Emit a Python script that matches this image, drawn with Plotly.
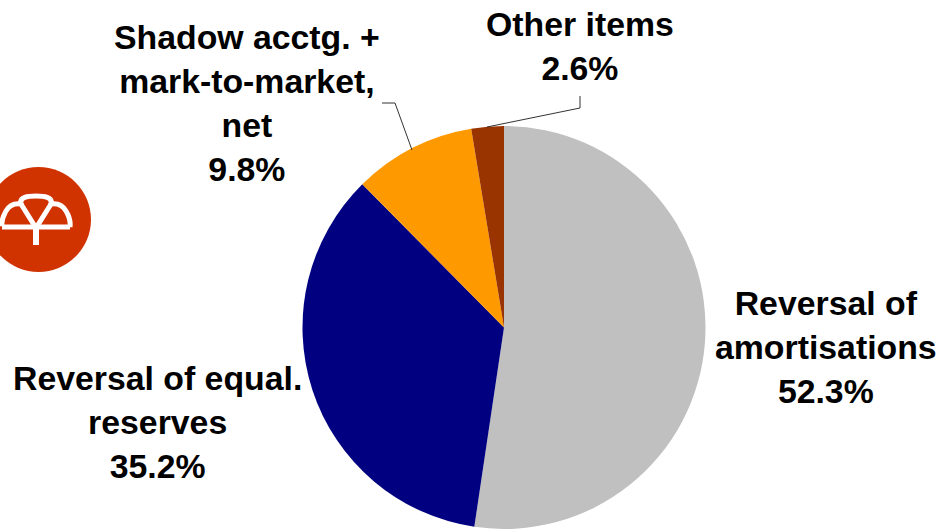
import plotly.graph_objects as go

W, H = 936, 529
categories = ["Reversal of amortisations", "Reversal of equal. reserves",
              "Shadow acctg. + mark-to-market, net", "Other items"]
shares = [52.3, 35.2, 9.8, 2.6]
colors = ["#C0C0C0", "#000080", "#FF9900", "#993300"]
label_lines = ["Reversal of<br>amortisations<br>52.3%",
               "Reversal of equal.<br>reserves<br>35.2%",
               "Shadow acctg. +<br>mark-to-market,<br>net<br>9.8%",
               "Other items<br>2.6%"]
label_pos = [(826, 347), (157, 422), (247, 103), (580, 46)]


def px(x):
    return x / W


def py(y):
    return 1 - y / H


def path(points, close=False):
    s = " ".join(("M" if i == 0 else "L") + f"{px(x):.5f},{py(y):.5f}" for i, (x, y) in enumerate(points))
    return s + (" Z" if close else "")


def curve(start, *segs):
    s = f"M{px(start[0]):.5f},{py(start[1]):.5f}"
    for a, b, c in segs:
        s += f" C{px(a[0]):.5f},{py(a[1]):.5f} {px(b[0]):.5f},{py(b[1]):.5f} {px(c[0]):.5f},{py(c[1]):.5f}"
    return s


fig = go.Figure(go.Pie(
    labels=categories, values=shares, sort=False, direction="clockwise", rotation=0,
    marker=dict(colors=colors, line=dict(width=0)), textinfo="none", hoverinfo="label+percent",
    domain=dict(x=[px(302), px(706)], y=[0, py(126)]), showlegend=False,
))

for text, (x, y) in zip(label_lines, label_pos):
    fig.add_annotation(text="<b>" + text.replace("<br>", "</b><br><b>") + "</b>",
                       x=px(x), y=py(y), xref="paper", yref="paper", showarrow=False,
                       xanchor="center", yanchor="middle", align="center",
                       font=dict(family="Liberation Sans", size=33.8, color="black"))

line = dict(color="#333333", width=1)
shapes = [
    dict(type="path", path=path([(382, 103), (395, 103), (412, 150)]), line=line, xref="paper", yref="paper"),
    dict(type="path", path=path([(580, 96), (580, 108), (487, 127)]), line=line, xref="paper", yref="paper"),
    dict(type="circle", x0=px(-14), x1=px(91), y0=py(167), y1=py(272), xref="paper", yref="paper",
         fillcolor="#D03200", line=dict(width=0)),
]
white = dict(color="white", width=5)
shapes += [
    dict(type="path", xref="paper", yref="paper", line=white,
         path=curve((2, 226), ((1, 219), (4, 215), (6, 211)), ((9, 206), (14, 203), (21, 204)),
                    ((19, 197), (28, 196), (36, 196)), ((44, 196), (53, 197), (51, 204)),
                    ((58, 203), (63, 206), (66, 211)), ((69, 216), (71, 220), (70, 227))) +
              " " + path([(70, 227), (2, 227)])),
    dict(type="path", xref="paper", yref="paper", line=white, path=path([(21, 204), (36, 228), (51, 204)])),
    dict(type="path", xref="paper", yref="paper", line=dict(color="white", width=6), path=path([(36, 227), (36, 245)])),
]
fig.update_layout(width=W, height=H, margin=dict(l=0, r=0, t=0, b=0), paper_bgcolor="white",
                  plot_bgcolor="white", shapes=shapes)
fig.write_html("out.html", config=dict(displayModeBar=False),
               post_script="document.body.style.margin='0';document.documentElement.style.overflow='hidden';")
